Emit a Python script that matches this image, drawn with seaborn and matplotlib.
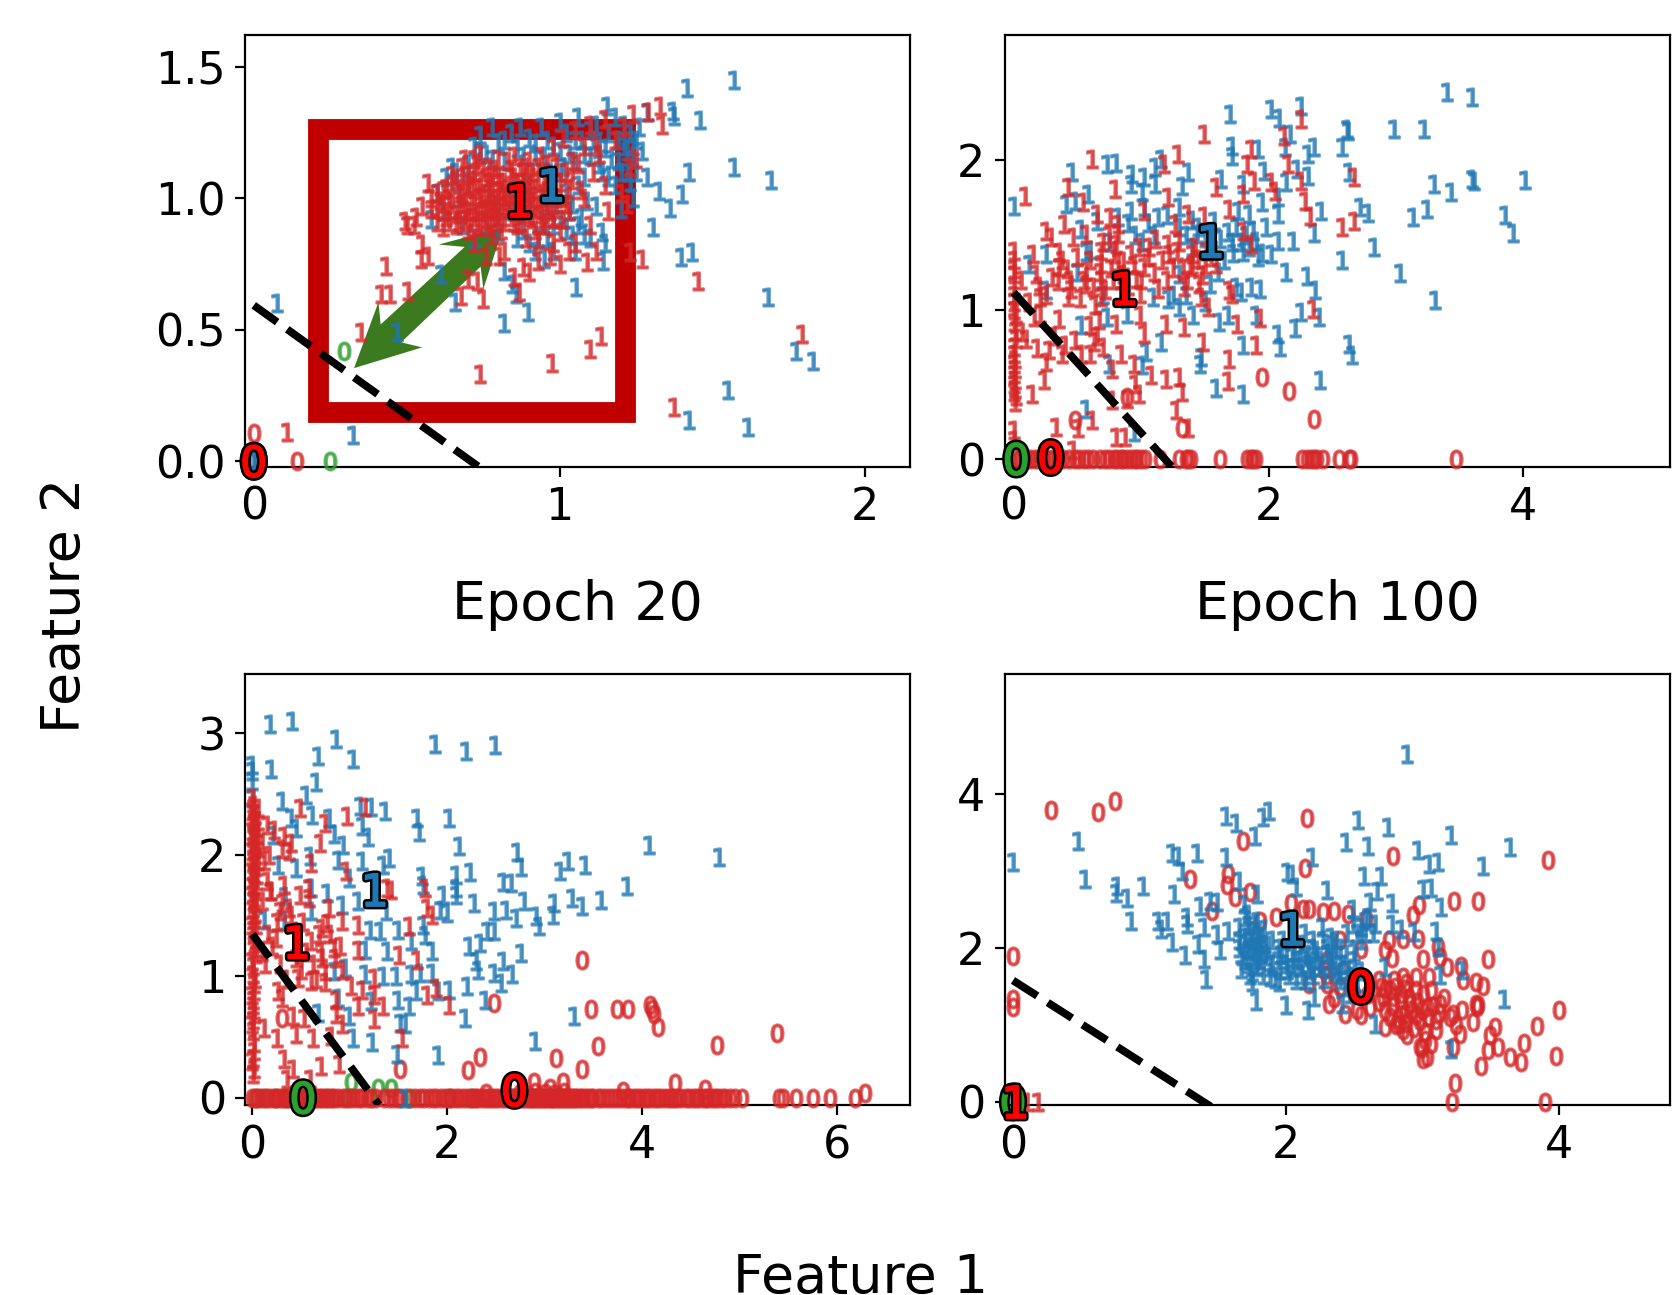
import matplotlib
matplotlib.use("Agg")
import matplotlib.pyplot as plt
import matplotlib.patheffects as pe
from matplotlib.patches import Polygon, Rectangle
import pandas as pd
import seaborn as sns

# ---------- upper left: Epoch 20 ----------
e20_blue_one = [(1.57,1.45),(1.417,1.42),(1.156,1.35),(1.37,1.333),(1.375,1.314),(1.458,1.298),(1.286,1.327),(1.571,1.12),(1.423,1.099),(1.691,1.071),(1.286,1.08),(1.327,1.027),(1.402,1.016),(1.363,.962),(1.305,.89),(1.399,.776),(1.434,.795),(1.141,.763),(1.054,.662),(1.681,.626),(.897,.567),(.819,.525),(.659,.605),(.857,.636),(.845,.674),(.819,.725),(.612,.712),(.469,.49),(.077,.601),(.324,.098),(1.552,.271),(1.424,.157),(1.618,.129),(1.774,.421),(1.828,.383),
(.58,.92),(.6,1.02),(.62,.95),(.63,1.08),(.65,1.12),(.67,1.0),(.68,.9),(.7,1.13),(.72,1.2),(.72,.85),(.74,1.24),(.76,1.17),(.77,1.02),(.78,1.27),(.8,1.21),(.8,.87),(.82,1.14),(.84,1.25),(.84,.95),(.86,1.19),(.87,1.27),(.9,1.23),(.9,1.05),(.92,1.16),(.93,.85),(.94,1.27),(.96,1.22),(.97,1.1),(.98,.9),(1.0,1.29),(1.0,1.18),(1.02,1.25),(1.03,.95),(1.04,.86),(1.05,1.14),(1.06,1.31),(1.07,1.22),(1.08,1.08),(1.09,.99),(1.1,1.26),(1.1,1.16),(1.12,1.28),(1.12,.97),(1.13,1.21),(1.14,1.1),(1.14,.87),(1.15,.83),(1.16,1.25),(1.17,1.15),(1.18,1.31),(1.18,1.05),(1.19,1.22),(1.2,1.1),(1.2,.96),(1.21,1.28),(1.22,1.18),(1.23,1.25),(1.23,1.06),(1.24,1.15),(1.24,1.0),(1.25,1.22),(1.25,1.1),(1.26,1.27),(1.27,1.18),(.95,.77),(.98,.8),(1.05,.8),(.76,.9),(.88,.88),
(.66,1.1),(.7,1.05),(.74,1.18),(.78,1.15),(.82,1.22),(.88,1.16),(.92,1.21),(.95,1.15),(.98,1.2),(1.01,1.12),(1.03,1.17),(1.05,1.22),(1.06,1.05),(1.08,1.17),(1.11,1.22),(1.13,1.13),(1.15,1.19),(1.16,1.08),(1.19,1.14),(1.21,1.2),(1.22,1.1),(1.24,1.2),(.95,.92),(.92,.8),(1.02,.88),(1.1,.85),(.86,.85),(.8,.95),(.9,.97),(1.07,.93),(0,0),(0,.01),
(.98,.98),(1.0,.92),(1.02,1.02),(1.04,.98),(1.06,.9),(1.08,.86),(.96,.85),(.9,.83),(1.0,1.1),(.95,1.0)]
e20_red_one = [(1.329,1.349),(1.29,1.327),(1.334,1.28),(.569,1.058),(.496,.915),(.525,.9),(.434,.741),(.415,.636),(.445,.636),(.503,.646),(.551,.826),(.547,.769),(.569,.782),(.35,.49),(.741,.332),(.977,.373),(1.1,.427),(1.137,.478),(1.375,.205),(1.793,.484),(1.453,.687),(1.232,.795),(1.271,.769),(1.09,.757),(.882,.738),(.802,.782),(.867,.643),(.751,.617),(.678,.63),(.729,.687),(.7,.693),(.109,.11),
(.58,1.0),(.6,.96),(.62,1.03),(.63,.93),(.65,.98),(.66,1.07),(.67,.91),(.68,1.02),(.69,.95),(.70,1.09),(.70,.88),(.71,.99),(.72,1.05),(.72,.93),(.73,1.13),(.74,.97),(.74,.89),(.75,1.01),(.76,1.08),(.76,.92),(.77,.96),(.78,1.04),(.78,.86),(.79,1.11),(.79,.99),(.80,.93),(.81,1.06),(.81,.88),(.82,1.01),(.83,1.14),(.83,.96),(.84,1.08),(.85,.91),(.85,1.03),(.86,.98),(.87,1.12),(.88,.94),(.88,1.06),(.89,.85),(.90,1.0),(.91,1.1),(.91,.92),(.92,1.04),(.93,.97),(.93,.84),(.94,1.16),(.95,1.02),(.95,.9),(.96,1.09),(.97,.95),(.98,1.19),(.98,.83),(1.0,1.06),(1.0,.87),(1.01,1.23),(1.02,.98),(1.03,.8),(1.04,1.14),(1.05,1.26),(1.05,.83),(1.07,1.03),(1.08,1.2),(1.1,1.28),(1.1,.9),(1.11,1.1),(1.12,.8),(1.13,1.17),(1.15,1.3),(1.15,1.05),(1.16,.95),(1.18,1.22),(1.2,1.02),(1.21,1.27),(1.22,.98),(1.23,1.12),(1.24,1.32),(1.25,1.15),(.53,.93),(.55,.97),(.5,.9),(.72,.83),(.76,.78),(.82,.8),(.9,.72),(.93,.76),(.97,.78),(1.0,.75),(.85,.7),
(.74,1.0),(.75,.95),(.77,1.02),(.79,.95),(.8,1.0),(.82,.97),(.83,1.04),(.84,.93),(.86,1.02),(.87,.95),(.72,.98),(.7,.95),(.68,.98),(.66,.94),(.64,1.0),(.73,1.04),(.76,1.0),(.78,.93),(.81,1.03),(.85,1.08),
(.61,.99),(.63,1.04),(.64,.95),(.65,1.05),(.66,.9),(.67,1.03),(.67,.96),(.68,1.08),(.69,.92),(.69,1.01),(.7,1.04),(.71,.91),(.71,1.06),(.72,1.1),(.73,.95),(.73,.9),(.74,1.06),(.75,.91),(.75,1.1),(.76,.96),(.77,.89),(.77,1.06),(.78,.98),(.78,1.09),(.79,.91),(.8,1.03),(.8,1.08),(.81,.96),(.82,.91),(.82,1.06),(.83,.99),(.84,1.01),(.84,1.11),(.85,.95),(.86,.9),(.86,1.06),(.87,1.0),(.88,1.1),(.89,.97),(.89,1.03),(.9,.93),(.91,.99),(.92,.88),(.93,1.07),(.94,1.0),(.94,.94),(.96,.97),(.97,1.03),(.98,.92),(.99,1.0),(1.02,1.1),(1.03,1.03),(1.06,1.13),(1.08,1.0),(1.12,1.2),(.77,1.12),(.72,1.15),(.68,1.12),(.9,1.14),(.96,1.13),
(.88,1.02),(.9,1.07),(.92,.96),(.93,1.12),(.95,1.06),(.96,.93),(.97,1.08),(.99,.96),(.99,1.12),(1.0,1.0),(1.01,.92),(1.03,.95),(1.04,1.07),(.94,.9),(.91,1.03),(.89,1.12),(.87,.91),(.62,.98),(.6,1.02),(.58,.96),(.6,.91),(.62,.89),(.64,.91),(.65,1.09),(.69,1.15),(.74,1.17),(.8,1.15),(.85,1.16)]
e20_red_zero = [(0,.106),(.143,0),(0,0)]
e20_green_zero = [(.294,.421),(.25,0)]
e20_centres = [("$0$","tab:green",0,0),("$0$","red",0,0),("$1$","tab:blue",.975,1.05),("$1$","red",.87,.99)]
e20_boundary = ([0,.75],[.593,-.033])

# ---------- upper right: Epoch 100 ----------
e100_blue_one = [(3.40,2.456),(3.60,2.423),(2.255,2.363),(1.70,2.311),(2.02,2.34),(2.08,2.28),(2.617,2.207),(2.627,2.196),(2.983,2.207),(3.216,2.207),(2.166,2.174),(2.573,2.085),(2.36,2.085),(1.71,2.096),(1.92,2.073),(2.31,2.04),(1.71,2.03),(2.128,2.085),(.804,1.984),(.735,1.973),(.455,1.918),(.93,1.907),(1.02,1.884),(1.156,2.007),(1.368,1.918),(1.112,1.951),(1.967,1.93),(2.224,1.94),(2.31,1.895),(2.634,1.918),(3.30,1.84),(3.60,1.873),(3.609,1.862),(4.01,1.869),(3.428,1.784),(1.63,1.873),(1.796,1.84),(2.138,1.851),(.923,1.84),(1.112,1.84),(1.009,1.784),(1.317,1.829),(.581,1.773),(.41,1.706),(0,1.69),(.479,1.729),(1.95,1.717),(2.07,1.751),(1.762,1.662),(1.847,1.64),(2.07,1.64),(2.72,1.684),(2.778,1.644),(3.24,1.673),(3.13,1.617),(3.856,1.633),(3.917,1.51),(2.412,1.662),(2.36,1.513),(1.3,1.684),(1.026,1.684),(.923,1.662),(1.129,1.617),(.821,1.617),(.65,1.595),(.53,1.54),(1.574,1.595),(1.437,1.506),(1.745,1.55),(1.88,1.528),(2.07,1.462),(2.19,1.462),(2.83,1.417),(2.576,1.335),(2.02,1.373),(1.916,1.35),(1.796,1.384),(1.71,1.45),(1.009,1.45),(.257,1.373),(.571,1.384),(.12,1.306),(2.138,1.25),(2.3,1.228),(3.03,1.246),(2.367,1.132),(1.865,1.15),(1.93,1.139),(1.745,1.15),(1.78,1.117),(1.54,1.172),(1.30,1.239),(3.308,1.061),(.257,1.128),(1.095,1.083),(1.214,1.072),(1.30,1.017),(1.41,.961),(1.608,.917),(1.683,.961),(1.899,.961),(2.258,.983),(2.395,.95),(2.207,.877),(2.07,.839),(2.087,.75),(1.796,.761),(2.634,.772),(2.651,.694),(.53,.894),(.735,.95),(.889,.972),(1.156,.783),(1.037,.716),(1.009,.627),(.746,.638),(1.471,.683),(1.46,.638),(1.59,.472),(2.40,.532),(1.796,.434),(.571,.338),(.941,.182),
(1.35,1.5),(1.4,1.42),(1.45,1.55),(1.5,1.48),(1.58,1.4),(1.62,1.47),(1.65,1.33),(1.68,1.52),(1.72,1.38),(1.78,1.45),(1.82,1.5),(1.85,1.42),(1.9,1.46),(1.95,1.38),(1.98,1.55),(1.4,1.6),(1.3,1.55),(1.2,1.63),(1.1,1.5),(1.05,1.58),(.95,1.5),(.9,1.58),(.75,1.45),(.6,1.4),(.7,1.1),(.5,1.25),(1.25,1.1),(1.35,1.1),(1.5,1.05),(1.6,1.25)]
e100_red_one = [(2.258,2.278),(1.495,2.174),(2.12,2.162),(.616,2.007),(1.29,2.04),(1.18,1.973),(1.865,2.073),(1.83,1.973),(2.155,1.973),(1.882,1.862),(2.018,1.851),(2.258,1.862),(2.668,1.884),(.085,1.762),(.428,1.818),(.797,1.806),(1.59,1.818),(2.053,1.795),(1.796,1.773),(1.214,1.751),(2.285,1.729),(.547,1.717),(1.693,1.673),(2.327,1.628),(2.668,1.59),(2.576,1.55),(1.026,1.662),(1.495,1.628),(1.368,1.64),(.257,1.528),(.393,1.573),(.291,1.484),(.821,1.573),(.752,1.617),(.65,1.64),(.462,1.484),(.564,1.506),(.821,1.506),(1.266,1.573),(1.796,1.528),(1.865,1.44),(0,1.395),(.154,1.373),(.359,1.384),(.684,1.395),(.787,1.373),(.923,1.373),(1.06,1.417),(1.214,1.44),(1.283,1.395),(1.402,1.373),(1.505,1.395),(1.59,1.306),(1.385,1.284),(1.026,1.284),(.855,1.328),(.684,1.306),(.564,1.261),(.359,1.284),(.171,1.239),(0,1.239),(.445,1.195),(.564,1.172),(.684,1.195),(.958,1.206),(1.129,1.139),(1.334,1.15),(1.454,1.172),(1.71,1.106),(1.693,1.128),(.205,1.083),(.428,1.083),(.684,1.083),(.992,1.106),(1.471,1.083),(1.522,1.017),(0,.994),(0,.917),(.068,.85),(.205,.972),(.359,.939),(.667,.928),(.804,.905),(.992,.961),(1.026,.839),(1.197,.905),(1.334,.883),(1.752,.905),(1.933,.943),(2.35,1.006),(1.899,.761),(1.488,.783),(1.687,.672),(.274,.727),(.376,.705),(.479,.794),(.633,.783),(.53,.705),(.838,.705),(.941,.638),(.77,.605),(0,.705),(0,.638),(0,.572),(0,.505),(0,.449),(.239,.527),(.147,.438),(1.078,.561),(1.197,.538),(1.3,.549),(.951,.505),(.985,.438),(.889,.405),(.77,.394),(1.324,.449),(1.683,.523),(1.276,.327),(1.368,.205),(.335,.216),(.503,.205),(.616,.26),(.804,.149),(0,.194),(.872,.149),(0,.127),(.462,.06),
(0,1.33),(0,1.27),(0,1.16),(0,1.1),(0,1.05),(.02,.97),(.01,.86),(.02,.8),(0,.75),(.01,.67),(.01,.6),(.01,.53),(.01,.47),(.02,.42),(.01,.38),(.06,1.2),(.12,1.05),(.16,.95),(.2,1.16),(.25,1.1),(.3,1.22),(.35,1.19),(.38,1.33),(.42,1.27),(.45,1.14),(.5,1.35),(.52,1.08),(.55,1.2),(.6,1.33),(.62,1.15),(.64,1.03),(.68,1.25),(.7,1.45),(.72,1.13),(.75,1.5),(.76,1.28),(.78,1.2),(.8,1.44),(.82,1.32),(.84,1.1),(.86,1.24),(.9,1.16),(.94,1.3),(.98,1.42),(1.0,1.2),(1.05,1.35),(1.1,1.25),(1.12,1.47),(1.16,1.33),(1.2,1.2),(1.22,1.37),(1.25,1.28),(1.3,1.45),(1.33,1.27),(1.36,1.2),(1.4,1.3),(1.42,1.42),(1.45,1.34),(1.48,1.23),(1.5,1.3),(1.55,1.35),(.6,.9),(.65,.82),(.7,.75),(.6,.7),(.4,.76),(.32,.82),(.25,.65),(.18,.74),(.1,.8)]
e100_red_zero = [(1.95,.55),(2.162,.456),(2.36,.271),(.479,.26),(1.317,.205),(.889,.416)]
e100_red_zero_row = [.03,.05,.07,.10,.13,.17,.20,.24,.27,.31,.35,.39,.43,.48,.51,.55,.58,.62,.68,.72,.75,.79,.81,.84,.86,.89,.92,.95,.97,1.0,1.03,1.15,1.30,1.35,1.37,1.39,1.62,1.83,1.86,1.88,1.90,2.26,2.3,2.33,2.36,2.38,2.43,2.55,2.63,2.65,3.47]
e100_centres = [("$0$","tab:green",.02,0),("$0$","red",.29,.01),("$1$","tab:blue",1.55,1.457),("$1$","red",.87,1.14)]
e100_boundary = ([0,1.25],[1.114,-.06])

# ---------- lower left ----------
lower_left_blue_one = [(.178,3.074),(.407,3.101),(.855,2.953),(.672,2.816),(1.038,2.786),(1.876,2.912),(2.196,2.849),(2.489,2.904),(0,2.74),(0,2.685),(.192,2.704),(.65,2.595),(.549,2.493),(0,2.603),(0,2.466),(.306,2.438),(1.107,2.397),(1.221,2.392),(1.359,2.356),(1.693,2.301),(2.013,2.301),(1.711,2.184),(.398,2.301),(.444,2.219),(.613,2.329),(.787,2.301),(1.121,2.233),(1.185,2.145),(.833,2.17),(.933,2.082),(.215,2.164),(2.123,2.068),(2.717,2.022),(2.754,1.896),(4.071,2.082),(4.79,1.981),(.59,1.986),(.878,1.959),(.261,1.918),(.444,1.89),(1.121,1.945),(1.404,1.973),(1.336,1.918),(2.237,1.858),(3.243,1.945),(3.417,1.912),(3.156,1.863),(2.09,1.836),(2.571,1.775),(2.653,1.767),(1.738,1.822),(1.747,1.753),(2.09,1.726),(3.843,1.745),(3.577,1.63),(3.28,1.644),(3.385,1.581),(2.79,1.622),(3.097,1.603),(2.274,1.603),(1.953,1.671),(2.09,1.671),(.764,1.685),(.604,1.726),(.339,1.658),(.993,1.808),(.915,1.589),(1.084,1.616),(1.93,1.548),(2.0,1.521),(2.479,1.534),(2.603,1.548),(2.708,1.479),(3.083,1.507),(2.914,1.493),(2.946,1.411),(1.368,1.534),(.604,1.534),(.124,1.466),(.329,1.452),(1.313,1.37),(1.208,1.384),(1.496,1.384),(1.633,1.288),(1.77,1.342),(1.747,1.425),(2.479,1.37),(2.411,1.37),(2.228,1.247),(2.333,1.274),(1.839,1.205),(1.382,1.205),(1.153,1.219),(2.754,1.192),(2.571,1.123),(2.296,1.123),(2.319,1.055),(2.479,1.027),(2.662,1.014),(2.548,.945),(1.839,1.027),(1.725,1.027),(1.633,1.014),(1.473,1),(1.336,1),(1.153,1.014),(.947,1.068),(.833,1.041),(2.205,.918),(2.022,.89),(2.388,.808),(1.908,.877),(1.679,.877),(1.496,.808),(1.61,.753),(1.221,.795),(.878,.822),(1.519,.616),(1.564,.603),(2.182,.658),(3.303,.671),(.993,.671),(.672,.699),(1.038,.493),(1.231,.458),(2.9,.466),(1.482,.356),(1.908,.348),(1.564,0)]
lower_left_red_one = [(.489,2.384),(1.153,2.392),(.97,2.321),(.741,2.26),(.329,2.151),(.695,2.096),(.375,2.027),(.604,1.932),
(.01,2.466),(.02,2.411),(0,2.356),(.01,2.301),(.02,2.247),(0,2.192),(.01,2.137),(.02,2.082),(0,2.027),(.01,1.973),(.02,1.918),(0,1.863),(.01,1.808),(.02,1.726),(0,1.671),(.01,1.616),(.02,1.507),(0,1.425),(.01,1.342),(.02,1.233),(0,1.123),(.01,1.014),(.02,.932),(0,.849),(.01,.767),(.02,.685),(0,.603),(.01,.548),(.02,.384),(0,.301),(.01,.192),
(.055,2.384),(.06,2.274),(.05,2.164),(.055,2.055),(.06,1.945),(.05,1.836),(.169,2.0),(.146,2.247),(.155,1.781),(.192,1.699),(.1,1.616),(.284,1.534),(.375,1.562),(.489,1.671),(.581,1.726),(.581,1.644),(.787,1.562),(.764,1.438),(.718,1.397),(.924,1.452),(1.084,1.425),(.961,1.863),(1.382,1.726),(1.427,1.712),(1.77,1.726),(1.793,1.562),(1.839,1.507),(1.61,1.411),(1.51,1.178),(1.693,1.137),(1.885,.904),(2.013,.759),(1.793,.849),(1.244,.986),(1.016,.918),(1.13,.89),(1.244,.849),(1.084,.753),(1.336,.753),(1.244,.644),(.833,1.233),(.604,1.288),(.238,1.315),(1.084,1.219),(.718,1.151),(.741,1.041),(.604,.959),(.467,.986),(.924,1.055),(.261,.877),(.306,.822),(.855,.808),(.855,.685),(.421,.671),(.535,.658),(.124,.575),(.252,.493),(.444,.521),(.618,.493),(.81,.507),(.924,.603),(1.533,.493),(.329,.315),(.421,.233),(.352,.151),(.595,.151),(.709,.26),(.892,.274),
(.01,2.38),(.03,2.33),(.02,2.27),(.04,2.22),(.01,2.16),(.03,2.11),(.02,2.05),(.04,2.0),(.01,1.95),(.03,1.9),(.02,1.84),(.04,1.78),(.01,1.75),(.03,1.7),(.02,1.64),(.04,1.6),(.01,1.56),(.03,1.52),(.02,1.47),(.04,1.42),(.01,1.38),(.03,1.3),(.02,1.27),(.04,1.18),(.01,1.08),(.03,.98),(.02,.88),(.01,.8),(.02,.72),(.01,.64),(.02,.45),(.01,.33),(.02,.24),(.1,1.2),(.13,1.1),(.16,1.35),(.2,1.25),(.25,1.45),(.3,1.6),(.33,1.75),(.4,1.5),(.45,1.15),(.5,1.05),(.52,1.45),(.55,1.2),(.62,1.1),(.65,.98),(.68,1.35),(.7,1.2),(.75,.95),(.8,1.35),(.85,1.15),(.9,1.25),(.28,1.1),(.35,.98),(.18,1.7),(.12,1.95),(.1,2.1),(.22,2.2),(.3,2.05),(.4,2.1)]
lower_left_red_zero = [(3.385,1.132),(2.479,.781),(3.472,.732),(3.737,.732),(3.852,.726),(4.08,.767),(4.103,.726),(4.126,.685),(4.163,.581),(5.384,.529),(4.767,.433),(3.545,.425),(3.12,.329),(3.381,.233),(2.333,.334),(2.214,.225),(1.519,.233),(.306,.658),(2.891,.132),(3.188,.132),(3.051,.082),(4.332,.123),(4.643,.074),(3.806,.055),(2.397,.041),(6.286,.036),(2.9,.05),(3.0,.04),(3.1,.03),(3.2,.05),(2.75,.04)]
lower_left_red_zero_row = [.03,.09,.14,.21,.27,.33,.38,.46,.52,.57,.66,.71,.79,.84,.93,1.01,1.09,1.18,1.27,1.44,1.52,1.72,1.81,1.88,2.02,2.09,2.16,2.24,2.3,2.37,2.43,2.49,2.56,2.62,2.67,2.73,2.78,2.83,2.87,2.91,2.95,2.99,3.03,3.07,3.11,3.15,3.19,3.23,3.27,3.31,3.36,3.41,3.47,3.55,3.62,3.7,3.78,3.85,3.92,3.98,4.02,4.08,4.15,4.22,4.3,4.36,4.4,4.45,4.52,4.58,4.62,4.68,4.72,4.78,4.85,4.9,4.95,5.02,5.4,5.45,5.58,5.75,5.93,6.18,
.0,.06,.17,.24,.3,.36,.42,.49,.55,.6,.64,.69,.75,.82,.88,.96,1.05,1.13,1.23,1.35,1.4,1.48,1.6,1.67,1.76,1.85,1.94,1.98,2.05,2.12,2.2,2.27,2.33,2.4,2.46,2.52,2.59,2.65,2.7,2.75,2.8,2.85,2.89,2.93,2.97,3.01,3.05,3.09,3.13,3.17,3.21,3.25,3.29,3.33,3.38,3.44,3.5,3.58,3.66,3.74,3.82,3.88,3.95,4.05,4.12,4.18,4.26,4.33,4.48,4.55,4.65,4.75,4.82]
lower_left_green_zero = [(1.016,.132),(1.29,.082),(1.427,.082)]
lower_left_green_zero_row = [.04,.12,.24,.35,.48,.62,.77,.98,1.21,1.63,2.02,2.24]
lower_left_centres = [("$0$","tab:green",.52,0),("$0$","red",2.69,.06),("$1$","tab:blue",1.26,1.71),("$1$","red",.46,1.28)]
lower_left_boundary = ([0,1.3],[1.345,-.06])

# ---------- lower right ----------
lower_right_blue_one = [(2.89,4.524),(1.562,3.723),(1.635,3.628),(1.834,3.701),(1.875,3.779),(2.531,3.667),(2.746,3.571),(1.77,3.463),(3.21,3.476),(.48,3.398),(2.442,3.377),(2.602,3.325),(3.642,3.312),(2.97,3.277),(0,3.126),(1.162,3.234),(1.21,3.203),(1.347,3.234),(1.562,3.182),(2.195,3.182),(3.05,3.095),(3.114,3.117),(3.443,3.074),(1.242,3.009),(2.01,2.987),(2.042,2.965),(2.57,2.944),(2.698,2.944),(1.658,2.879),(.528,2.9),(.954,2.805),(.762,2.814),(.755,2.719),(.835,2.654),(1.178,2.706),(2.074,2.792),(2.298,2.758),(2.666,2.749),(3.002,2.771),(3.066,2.784),(1.443,2.619),(1.37,2.554),(1.498,2.597),(1.786,2.706),(2.778,2.589),(3.139,2.541),(2.618,2.597),(2.49,2.511),(.867,2.359),(1.066,2.359),(1.13,2.351),(1.274,2.403),(1.082,2.251),(1.162,2.078),(1.274,2.316),(1.402,2.273),(1.498,2.186),(1.578,2.229),(1.354,2.056),(1.258,1.905),(1.402,1.861),(1.514,1.97),(1.418,1.602),(1.658,2.273),(1.722,2.446),(1.786,2.359),(1.69,2.576),(1.754,2.229),(1.658,2.1),(1.754,2.1),(1.85,2.056),(1.722,1.97),(1.818,1.926),(1.674,1.732),(1.754,1.688),(1.786,1.775),(1.754,1.558),(1.882,1.623),(1.946,1.558),(2.01,1.71),(2.074,1.58),(2.138,1.58),(1.962,1.926),(2.042,1.883),(2.138,1.883),(2.202,2.1),(2.218,1.97),(2.266,2.273),(2.33,2.143),(2.202,1.753),(2.33,1.84),(2.394,1.58),(2.49,2.316),(2.554,2.273),(2.65,2.316),(2.442,1.926),(2.458,1.71),(2.73,1.753),(2.778,2.316),(2.842,2.251),(2.938,2.208),(3.098,2.229),(3.114,2.013),(3.13,1.645),(3.29,1.71),(3.6,1.342),(1.779,1.312),(2.003,1.255),(2.16,1.19),(2.208,1.364),(2.41,1.277),(2.65,1.017),(3.21,.693),
(1.7,2.4),(1.72,2.3),(1.8,2.2),(1.69,2.15),(1.78,2.02),(1.82,2.15),(1.7,1.85),(1.8,1.85),(1.9,1.8),(1.95,2.0),(2.0,1.8),(2.06,1.95),(2.1,1.75),(2.16,1.8),(2.25,1.85),(2.3,2.0),(2.37,2.1),(2.4,1.8),(2.35,1.7),(2.12,2.05),(2.2,1.65),(2.28,1.6),(2.52,2.2),(2.58,2.35),(2.5,1.85),
(1.66,2.0),(1.68,1.9),(1.7,2.05),(1.72,1.8),(1.73,2.15),(1.74,1.65),(1.75,2.0),(1.76,1.9),(1.77,2.3),(1.78,1.75),(1.79,2.1),(1.8,1.95),(1.81,2.05),(1.83,1.65),(1.84,2.25),(1.85,1.9),(1.87,2.0),(1.88,1.75),(1.9,2.1),(1.92,1.6),(1.94,1.85),(1.96,1.72),(1.98,2.1),(2.0,1.95),(2.02,1.65),(2.05,1.75),(2.08,1.85),(2.1,1.95),(2.12,1.65),(2.14,2.2),(2.16,1.92),(2.18,1.72),(2.2,2.0),(2.22,1.85),(2.25,1.75),(2.27,2.1),(2.3,1.92),(2.32,1.75),(2.34,2.05),(2.36,1.9),(2.38,1.65),(2.4,2.0),(2.42,1.78),(2.45,2.2),(2.48,1.62),(2.5,1.95),(2.52,1.55),(2.55,2.1),(2.58,2.2),(2.6,2.4),(2.64,2.2),(2.55,1.7),(2.47,1.4),(2.44,1.5)]
lower_right_red_zero = [(.275,3.801),(.624,3.775),(.746,3.909),(2.154,3.688),(1.683,3.39),(2.784,3.203),(2.138,3.039),(3.92,3.152),(1.299,2.9),(1.578,2.965),(1.571,2.827),(1.738,2.727),(1.626,2.662),(3.232,2.61),(3.411,2.61),(2.979,2.563),(2.931,2.437),(1.456,2.489),(2.035,2.584),(2.122,2.511),(2.17,2.511),(2.275,2.468),(2.355,2.489),(2.458,2.446),(2.586,2.381),(1.93,2.403),(1.811,2.359),(2.97,2.121),(2.858,2.121),(2.752,2.108),(0,1.896),(2.73,1.97),(2.778,1.87),(3.008,1.853),(3.114,2.013),(3.13,1.883),(3.178,1.753),(3.283,1.766),(3.296,1.58),(3.482,1.853),(3.395,1.558),(3.443,1.502),(2.554,1.991),(2.394,2.1),(2.298,1.84),(2.282,1.71),(2.298,1.537),(2.17,1.537),(0,1.342),(0,1.234),(4.003,1.19),(3.408,1.255),(2.314,1.277),(2.432,1.147),(2.554,1.126),(2.522,1.19),(2.618,1.234),(2.73,1.19),(2.73,.974),(2.826,1.017),(2.89,.866),(3.018,.909),(3.066,.758),(2.986,.714),(3.002,.563),(3.034,.584),(3.226,.714),(3.274,.887),(3.37,1.039),(3.53,.974),(3.498,.866),(3.482,.671),(3.552,.714),(3.642,.584),(3.722,.519),(3.744,.771),(3.84,.987),(3.978,.597),(3.427,.468),(3.242,.251),(3.216,0),(3.898,0),
(2.682,1.58),(2.73,1.472),(2.794,1.58),(2.858,1.623),(2.954,1.623),(3.05,1.623),(2.714,1.364),(2.794,1.364),(2.874,1.472),(2.954,1.45),(3.002,1.407),(2.842,1.32),(2.906,1.277),(3.034,1.234),(3.13,1.277),(3.226,1.147),(3.29,1.19),(3.392,1.277),(2.874,1.147),(2.954,1.126),(3.098,1.061),(2.81,.996),(2.858,.931),(3.098,.931),(3.398,1.234),(2.842,1.147),
(2.7,1.5),(2.76,1.45),(2.8,1.5),(2.84,1.4),(2.88,1.55),(2.9,1.35),(2.92,1.2),(2.96,1.3),(2.98,1.05),(3.0,1.2),(3.04,1.1),(3.06,1.45),(3.08,1.25),(3.12,1.15),(3.16,1.35),(3.2,1.1),(3.25,1.0),(2.78,1.25),(2.82,1.08),(2.88,1.02),(2.94,.96),(3.02,.8),(3.0,.7),(2.76,1.1),(2.68,1.3),(2.6,1.4),(2.5,1.4),(2.4,1.5),(2.35,1.35),(2.3,1.65),(2.42,1.7)]
lower_right_red_one = [(.106,0),(.186,0)]
lower_right_centres = [("$0$","tab:green",0,0),("$1$","red",.02,0),("$1$","tab:blue",2.05,2.25),("$0$","red",2.55,1.5)]
lower_right_boundary = ([0,1.45],[1.58,-.06])

# ---------- annotation on the first panel ----------
highlight_box = (.209, .189, 1.005, 1.074)
arrow_outline = [(.328,.354),(.408,.605),(.415,.52),(.69,.815),(.605,.824),(.816,.89),(.751,.655),(.742,.74),(.482,.452),(.551,.433)]

titles = ["Epoch 20", "Epoch 100"]
W, H = 1674, 1295

sns.set_theme(style="ticks", rc={
    "axes.edgecolor": "black", "axes.linewidth": .8, "text.color": "black",
    "xtick.color": "black", "ytick.color": "black", "axes.labelcolor": "black",
    "xtick.major.size": 3.5, "ytick.major.size": 3.5,
    "xtick.major.width": .8, "ytick.major.width": .8,
    "xtick.labelsize": 16, "ytick.labelsize": 16,
})
plt.rcParams["font.family"] = ["DejaVu Sans"]

fig = plt.figure(figsize=(W / 200, H / 200), dpi=200)


def make_axes(left, right, top, bottom):
    return fig.add_axes([left / W, 1 - bottom / H, (right - left) / W, (bottom - top) / H])


def cloud(ax, pts, marker, color, size=42):
    if not pts:
        return
    df = pd.DataFrame(pts, columns=["f1", "f2"])
    sns.scatterplot(data=df, x="f1", y="f2", marker=marker, color=color, s=size,
                    alpha=.64, linewidth=.8, edgecolor=color, clip_on=False,
                    legend=False, ax=ax, zorder=3)


def panel(ax, green, red0, blue, red1, centres, boundary, xlim, ylim, xticks, yticks, ylabels=None):
    cloud(ax, green, "$0$", "tab:green")
    cloud(ax, red0, "$0$", "tab:red")
    cloud(ax, blue, "$1$", "tab:blue")
    cloud(ax, red1, "$1$", "tab:red")
    ax.plot(boundary[0], boundary[1], color="black", ls="--", lw=2.8, zorder=4)
    for marker, color, x, y in centres:
        sc = ax.scatter([x], [y], marker=marker, s=135, c=color, edgecolors=color,
                        linewidths=.6, clip_on=False, zorder=5)
        sc.set_path_effects([pe.withStroke(linewidth=2.4, foreground="black")])
    ax.set_xlim(*xlim)
    ax.set_ylim(*ylim)
    ax.set_xticks(xticks)
    ax.set_yticks(yticks)
    if ylabels:
        ax.set_yticklabels(ylabels)
    ax.set_xlabel("")
    ax.set_ylabel("")


ax1 = make_axes(245.5, 910.2, 35.2, 466.5)
ax2 = make_axes(1004.8, 1670, 35.2, 466.5)
ax3 = make_axes(245.5, 910.2, 673.6, 1105)
ax4 = make_axes(1004.8, 1670, 673.6, 1105)

panel(ax1, e20_green_zero, e20_red_zero, e20_blue_one, e20_red_one, e20_centres, e20_boundary,
      (-.027, 2.147), (-.02, 1.62), [0, 1, 2], [0, .5, 1, 1.5], ["0.0", "0.5", "1.0", "1.5"])
panel(ax2, [], e100_red_zero + [(x, 0) for x in e100_red_zero_row], e100_blue_one, e100_red_one,
      e100_centres, e100_boundary, (-.07, 5.15), (-.05, 2.836), [0, 2, 4], [0, 1, 2])
panel(ax3, lower_left_green_zero + [(x, 0) for x in lower_left_green_zero_row],
      lower_left_red_zero + [(x, 0) for x in lower_left_red_zero_row], lower_left_blue_one, lower_left_red_one,
      lower_left_centres, lower_left_boundary, (-.07, 6.75), (-.06, 3.49), [0, 2, 4, 6], [0, 1, 2, 3])
panel(ax4, [], lower_right_red_zero, lower_right_blue_one, lower_right_red_one, lower_right_centres,
      lower_right_boundary, (-.06, 4.815), (-.04, 5.57), [0, 2, 4], [0, 2, 4])

for ax, title in zip((ax1, ax2), titles):
    ax.set_xlabel(title, fontsize=19.4, labelpad=18)

ax1.add_patch(Rectangle(highlight_box[:2], highlight_box[2], highlight_box[3], fill=False,
                        edgecolor="#C00000", lw=7.5, joinstyle="miter", zorder=2))
ax1.add_patch(Polygon(arrow_outline, closed=True, facecolor="#3B7A1E", edgecolor="none", zorder=2.5))

fig.text(65 / W, 1 - 605 / H, "Feature 2", rotation=90, fontsize=19.4, ha="center", va="center")
fig.text(860.5 / W, 1 - 1293 / H, "Feature 1", fontsize=19.4, ha="center", va="baseline")

fig.savefig("out.png", dpi=200)
